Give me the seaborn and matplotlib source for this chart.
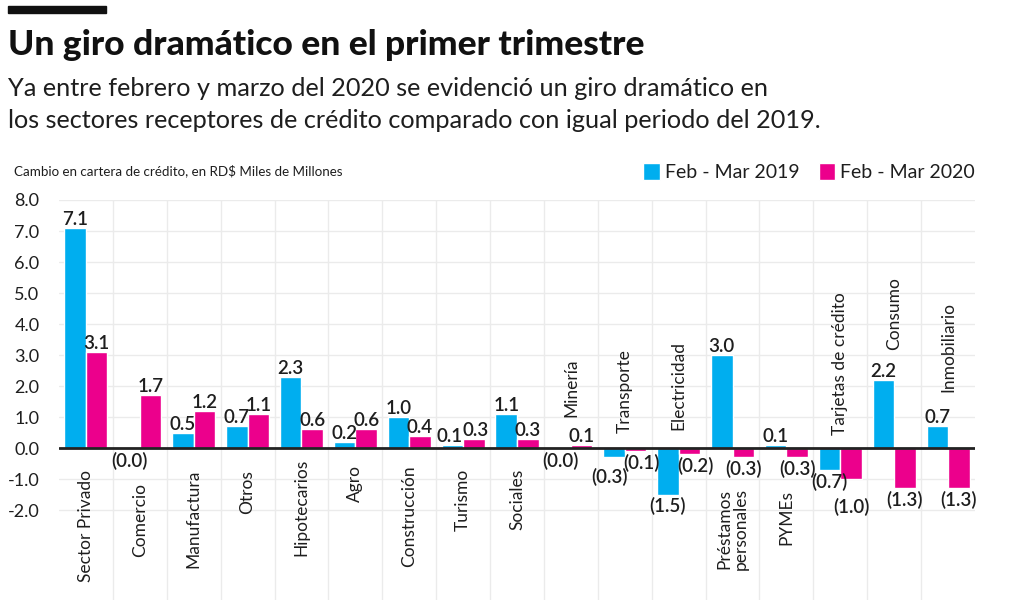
import numpy as np
import pandas as pd
import matplotlib
matplotlib.use("Agg")
import matplotlib.pyplot as plt
import seaborn as sns
from matplotlib.patches import Rectangle

## data
sectores = ["Sector Privado", "Comercio", "Manufactura", "Otros", "Hipotecarios", "Agro",
            "Construcción", "Turismo", "Sociales", "Minería", "Transporte", "Electricidad",
            "Préstamos\npersonales", "PYMEs", "Tarjetas de crédito", "Consumo", "Inmobiliario"]
feb_mar_2019 = [7.1, -0.04, 0.5, 0.7, 2.3, 0.2, 1.0, 0.1, 1.1, -0.04, -0.3, -1.5, 3.0, 0.1, -0.7, 2.2, 0.7]
feb_mar_2020 = [3.1, 1.7, 1.2, 1.1, 0.6, 0.6, 0.4, 0.3, 0.3, 0.1, -0.1, -0.2, -0.3, -0.3, -1.0, -1.3, -1.3]
periodos = ["Feb - Mar 2019", "Feb - Mar 2020"]
yticks = [-2, -1, 0, 1, 2, 3, 4, 5, 6, 7, 8]

df = pd.DataFrame({
    "Sector": sectores * 2,
    "Valor": feb_mar_2019 + feb_mar_2020,
    "Periodo": [periodos[0]] * len(sectores) + [periodos[1]] * len(sectores),
})

BLUE = "#00AEEF"
PINK = "#EC008C"
INK = "#1e1e1e"

sns.set_style("white")
plt.rcParams["font.family"] = ["Lato", "DejaVu Sans"]

fig = plt.figure(figsize=(10.24, 6.11), dpi=100)
ax = fig.add_axes([59 / 1024, 1 - 600 / 611, 916 / 1024, 400 / 611])

sns.barplot(data=df, x="Sector", y="Valor", hue="Periodo", palette=[BLUE, PINK],
            saturation=1, errorbar=None, ax=ax)

# axes styling
ax.set_xlim(-0.5, len(sectores) - 0.5)
ax.set_ylim(-4.9, 8.0)
ax.set_yticks(yticks)
ax.set_yticklabels([f"{t:.1f}" for t in yticks], fontsize=13, color=INK)
ax.set_xticks([])
ax.set_xticks(np.arange(0.5, len(sectores) - 1, 1), minor=True)
ax.tick_params(axis="both", which="both", length=0)
ax.tick_params(axis="y", pad=14)
ax.grid(axis="y", which="major", color="#ebebeb", lw=1)
ax.grid(axis="x", which="minor", color="#ebebeb", lw=1)
ax.set_axisbelow(True)
ax.axhline(0, color="#222222", lw=2, zorder=3)
ax.set_xlabel("")
ax.set_ylabel("")
for s in ax.spines.values():
    s.set_visible(False)

# value labels
nudges = {(0, 7): (-2, 0), (1, 7): (1.5, 0), (0, 10): (-3, -6), (1, 10): (4, 0),
          (1, 11): (4, 0), (1, 14): (0, -12)}
for h, cont in enumerate(ax.containers):
    vals = feb_mar_2019 if h == 0 else feb_mar_2020
    for i, bar in enumerate(cont):
        v = vals[i]
        x = bar.get_x() + bar.get_width() / 2
        dx, dy = nudges.get((h, i), (0, 0))
        if v >= 0:
            txt = f"{v:.1f}"
            ax.annotate(txt, (x, bar.get_y() + bar.get_height()), xytext=(dx, 0 + dy),
                        textcoords="offset points", ha="center", va="bottom",
                        fontsize=13.5, fontweight="semibold", color=INK, zorder=5)
        else:
            txt = f"({abs(v):.1f})"
            ax.annotate(txt, (x, bar.get_y() + (bar.get_height() if bar.get_height() < 0 else 0)),
                        xytext=(dx, -2 + dy), textcoords="offset points", ha="center", va="top",
                        fontsize=13.5, fontweight="semibold", color=INK, zorder=5)

# category labels, some below the zero line, some above
label_y = {"Sector Privado": -0.71, "Comercio": -1.13, "Manufactura": -0.68, "Otros": -0.71,
           "Hipotecarios": -0.35, "Agro": -0.55, "Construcción": -0.55, "Turismo": -0.68,
           "Sociales": -0.68, "Préstamos\npersonales": -1.29, "PYMEs": -1.35}
label_y_up = {"Minería": 1.0, "Transporte": 0.48, "Electricidad": 0.58,
              "Tarjetas de crédito": 0.42, "Consumo": 3.16, "Inmobiliario": 1.8}
for i, name in enumerate(sectores):
    if name in label_y:
        ax.text(i, label_y[name], name, rotation=90, ha="center", va="top",
                fontsize=12.5, color=INK, linespacing=1.0)
    else:
        ax.text(i, label_y_up[name], name, rotation=90, ha="center", va="bottom",
                fontsize=12.5, color=INK, linespacing=1.0)

# legend
handles, labels = ax.get_legend_handles_labels()
ax.get_legend().remove()
fig.legend(handles, labels, loc="center right", bbox_to_anchor=(975 / 1024, 1 - 172 / 611),
           ncol=2, frameon=False, fontsize=14, handlelength=0.85, handleheight=0.95,
           handletextpad=0.25, columnspacing=1.0, borderpad=0, borderaxespad=0,
           labelcolor=INK)

# header
fig.patches.append(Rectangle((8 / 1024, 1 - 13 / 611), 98 / 1024, 7 / 611,
                             transform=fig.transFigure, color="#111111"))
fig.text(8 / 1024, 1 - 45 / 611, "Un giro dramático en el primer trimestre",
         fontsize=25.5, fontweight="black", color="#111111", va="center")
fig.text(8 / 1024, 1 - 88 / 611,
         "Ya entre febrero y marzo del 2020 se evidenció un giro dramático en",
         fontsize=18.2, fontweight="normal", color=INK, va="center")
fig.text(8 / 1024, 1 - 120 / 611,
         "los sectores receptores de crédito comparado con igual periodo del 2019.",
         fontsize=18.2, fontweight="normal", color=INK, va="center")
fig.text(14 / 1024, 1 - 171 / 611, "Cambio en cartera de crédito, en RD$ Miles de Millones",
         fontsize=9.6, color=INK, va="center")

plt.savefig("out.png", dpi=100)
